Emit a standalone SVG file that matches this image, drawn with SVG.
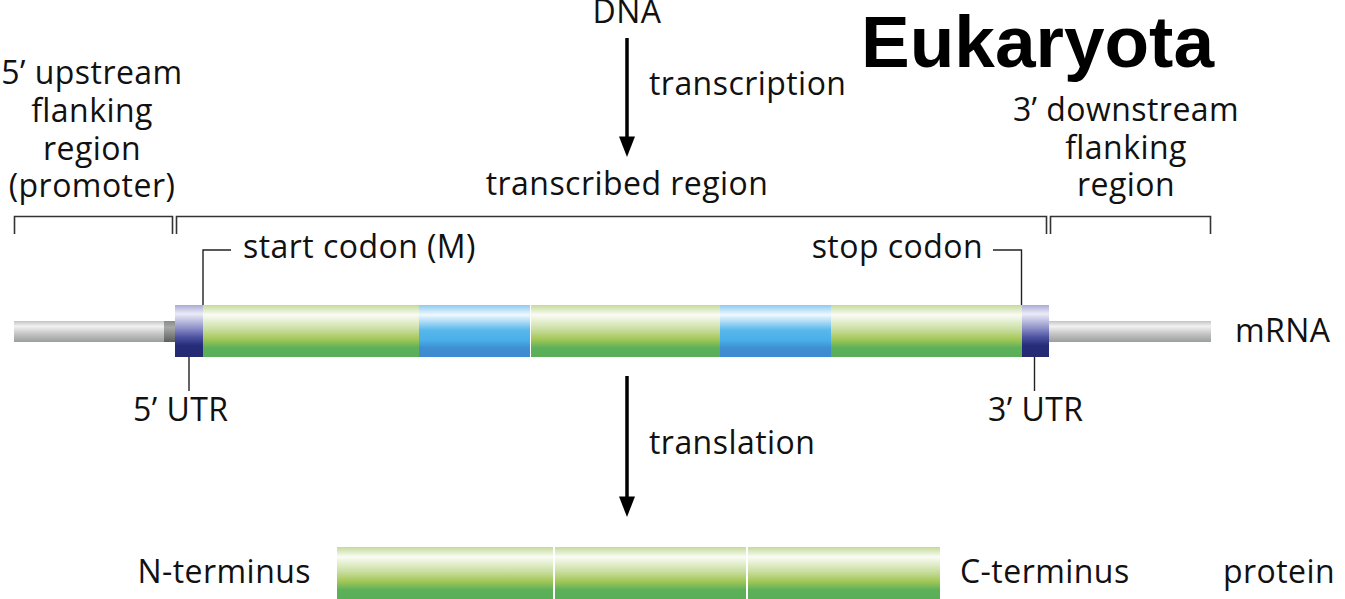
<svg xmlns="http://www.w3.org/2000/svg" width="1345" height="599" viewBox="0 0 1345 599">
<style>
text{font-family:"Open Sans","Noto Sans","Liberation Sans",sans-serif;font-size:32px;letter-spacing:0.45px;fill:#111}
.title{font-family:"Liberation Sans",Arial,sans-serif;font-weight:bold;font-size:73px;letter-spacing:0;fill:#000}
.mid{text-anchor:middle}
.end{text-anchor:end}
.br{fill:none;stroke:#333;stroke-width:1.6}
.ld{fill:none;stroke:#222;stroke-width:1.4}
.ar{stroke:#000;stroke-width:3.5}
.ah{fill:#000}
</style>
<defs>
<linearGradient id="gGreen" x1="0" y1="0" x2="0" y2="1">
<stop offset="0" stop-color="#c3da9a"/>
<stop offset="0.19" stop-color="#fafcf4"/>
<stop offset="0.46" stop-color="#cbdfa4"/>
<stop offset="0.66" stop-color="#a3c756"/>
<stop offset="0.82" stop-color="#5eb15a"/>
<stop offset="1" stop-color="#5aae58"/>
</linearGradient>
<linearGradient id="gBlue" x1="0" y1="0" x2="0" y2="1">
<stop offset="0" stop-color="#8ccbf1"/>
<stop offset="0.19" stop-color="#f0f8fe"/>
<stop offset="0.48" stop-color="#58b8ec"/>
<stop offset="0.68" stop-color="#4aaee8"/>
<stop offset="0.83" stop-color="#3e8ed2"/>
<stop offset="1" stop-color="#3d8bd0"/>
</linearGradient>
<linearGradient id="gUtr" x1="0" y1="0" x2="0" y2="1">
<stop offset="0" stop-color="#a9aad8"/>
<stop offset="0.17" stop-color="#ececf7"/>
<stop offset="0.45" stop-color="#8c8ec8"/>
<stop offset="0.62" stop-color="#4c52a0"/>
<stop offset="0.78" stop-color="#262c78"/>
<stop offset="1" stop-color="#232a70"/>
</linearGradient>
<linearGradient id="gGray" x1="0" y1="0" x2="0" y2="1">
<stop offset="0" stop-color="#c4c4c4"/>
<stop offset="0.25" stop-color="#f2f2f2"/>
<stop offset="0.6" stop-color="#c6c6c6"/>
<stop offset="1" stop-color="#9a9e9e"/>
</linearGradient>
<linearGradient id="gDark" x1="0" y1="0" x2="0" y2="1">
<stop offset="0" stop-color="#8a8a8a"/>
<stop offset="0.3" stop-color="#a8a8a8"/>
<stop offset="1" stop-color="#5a5e5e"/>
</linearGradient>
</defs>

<g id="title"><text class="title" x="861" y="67">Eukaryota</text></g>
<g id="dna"><text class="mid" x="627" y="23">DNA</text></g>
<g id="transcription-label"><text x="649" y="95">transcription</text></g>
<g id="upstream"><text class="mid" x="92" y="84">5’ upstream</text><text class="mid" x="92" y="122">flanking</text><text class="mid" x="92" y="160">region</text><text class="mid" x="92" y="197">(promoter)</text></g>
<g id="transcribed"><text class="mid" x="627" y="195">transcribed region</text></g>
<g id="downstream"><text class="mid" x="1126" y="121">3’ downstream</text><text class="mid" x="1126" y="159">flanking</text><text class="mid" x="1126" y="196">region</text></g>
<g id="start-codon"><text x="243" y="258">start codon (M)</text></g>
<g id="stop-codon"><text class="end" x="983" y="258">stop codon</text></g>

<g id="mrna">
<rect x="14" y="321" width="161" height="21" fill="url(#gGray)"/>
<rect x="164" y="321" width="11" height="21" fill="url(#gDark)"/>
<rect x="1049" y="321" width="162" height="21" fill="url(#gGray)"/>
<rect x="175" y="305" width="28" height="52" fill="url(#gUtr)"/>
<rect x="203" y="305" width="216" height="52" fill="url(#gGreen)"/>
<rect x="419" y="305" width="111" height="52" fill="url(#gBlue)"/>
<rect x="531" y="305" width="189" height="52" fill="url(#gGreen)"/>
<rect x="720" y="305" width="111" height="52" fill="url(#gBlue)"/>
<rect x="831" y="305" width="191" height="52" fill="url(#gGreen)"/>
<rect x="1022" y="305" width="27" height="52" fill="url(#gUtr)"/>
<text x="1235" y="342">mRNA</text>
</g>
<g id="utr5"><text x="133" y="421">5’ UTR</text></g>
<g id="utr3"><text x="988" y="421">3’ UTR</text></g>
<g id="translation-label"><text x="649" y="454">translation</text></g>

<g id="protein">
<rect x="337" y="547" width="603" height="52" fill="url(#gGreen)"/>
<rect x="553" y="547" width="2" height="52" fill="#fff"/>
<rect x="746" y="547" width="2" height="52" fill="#fff"/>
<text class="end" x="311" y="583">N-terminus</text>
<text x="960" y="583">C-terminus</text>
<text x="1223" y="583">protein</text>
</g>

<g id="connectors">
<path class="br" d="M14.5,234 V216.5 H172.5 V234"/>
<path class="br" d="M176.5,234 V216.5 H1046.5 V234"/>
<path class="br" d="M1050.5,234 V216.5 H1210.5 V234"/>
<path class="ld" d="M231,250 H203 V305"/>
<path class="ld" d="M993,250 H1021.5 V305"/>
<path class="ld" d="M189,357 V391"/>
<path class="ld" d="M1034.5,357 V391"/>
<line class="ar" x1="627" y1="38" x2="627" y2="140"/>
<polygon class="ah" points="619,136.5 635,136.5 627,157"/>
<line class="ar" x1="627" y1="376" x2="627" y2="500"/>
<polygon class="ah" points="619,496.5 635,496.5 627,517"/>
</g>
</svg>
